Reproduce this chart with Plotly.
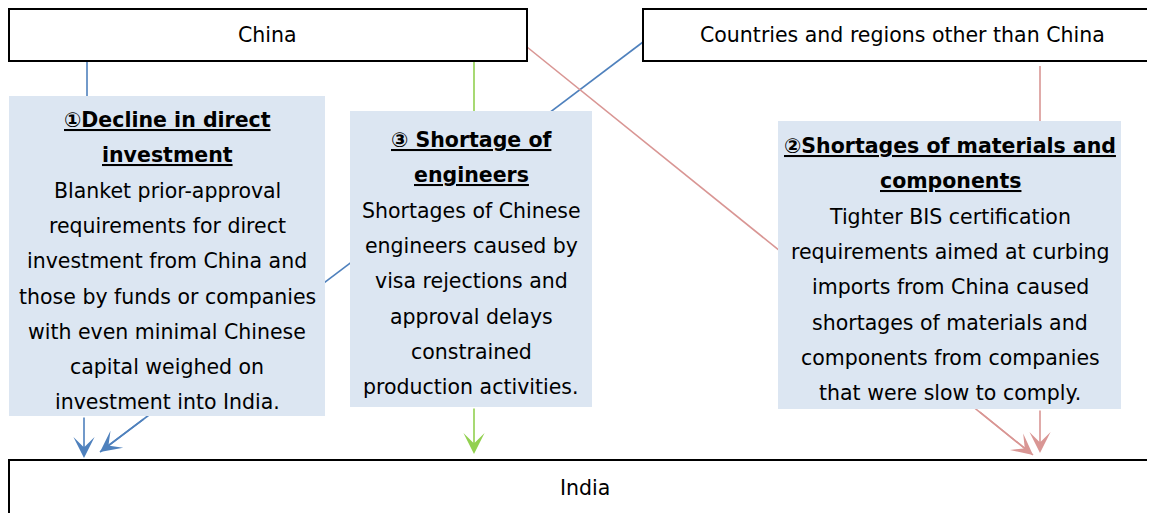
import plotly.graph_objects as go

# ---------------- data (texts) ----------------
node_labels = ["China", "Countries and regions other than China", "India"]

box1_title = ["①Decline in direct", "investment"]
box1_body = ["Blanket prior-approval", "requirements for direct",
             "investment from China and", "those by funds or companies",
             "with even minimal Chinese", "capital weighed on",
             "investment into India."]

box3_title = ["③ Shortage of", "engineers"]
box3_body = ["Shortages of Chinese", "engineers caused by",
             "visa rejections and", "approval delays",
             "constrained", "production activities."]

box2_title = ["②Shortages of materials and", "components"]
box2_body = ["Tighter BIS certification", "requirements aimed at curbing",
             "imports from China caused", "shortages of materials and",
             "components from companies", "that were slow to comply."]

# ---------------- layout / style ----------------
W, H = 1155, 513
OFF = 8  # page body margin offset
BLUE = "#4f81bd"
GREEN = "#92d050"
RED = "#d99694"
FILL = "#dce6f2"
FONT = "DejaVu Sans"
FS = 20.5

fig = go.Figure()
shapes = []
annotations = []

def line(x0, y0, x1, y1, color, width=1.6):
    shapes.append(dict(type="line", xref="x", yref="y", x0=x0, y0=y0, x1=x1, y1=y1,
                       line=dict(color=color, width=width), layer="below"))

def arrow(xt, yt, xtail, ytail, color):
    annotations.append(dict(x=xt, y=yt, ax=xtail, ay=ytail, xref="x", yref="y",
                            axref="x", ayref="y", showarrow=True, text="",
                            arrowhead=3, arrowsize=2.2, arrowwidth=1.6,
                            arrowcolor=color, standoff=0, startstandoff=0))

def rect(x0, y0, x1, y1, fill, border=None, bw=2):
    shapes.append(dict(type="rect", xref="x", yref="y", x0=x0, y0=y0, x1=x1, y1=y1,
                       fillcolor=fill,
                       line=dict(color=border if border else fill, width=bw if border else 0),
                       layer="below"))

def text(x, y, s, size=FS, bold=False, underline=False):
    t = s
    if underline:
        t = "<u>" + t + "</u>"
    if bold:
        t = "<b>" + t + "</b>"
    annotations.append(dict(x=x, y=y, xref="x", yref="y", text=t, showarrow=False,
                            xanchor="center", yanchor="middle",
                            font=dict(family=FONT, size=size, color="#000000")))

# connector lines (drawn beneath the boxes)
line(87, 61, 87, 96, BLUE)            # China -> box1
line(643, 42, 100, 452, BLUE)         # Countries -> India (diagonal, behind boxes)
line(474, 61, 474, 111, GREEN)        # China -> box3
line(527, 47, 1033, 455, RED)         # China -> India (diagonal, behind box2)
line(1040, 66, 1040, 121, RED)        # Countries -> box2

# top / bottom node boxes
rect(9, 9, 527, 61, "white", "black")
rect(643, 9, 1175, 61, "white", "black")
rect(9, 460, 1175, 540, "white", "black")

# explanation boxes
rect(9, 96, 325, 416, FILL)
rect(350, 111, 592, 407, FILL)
rect(778, 121, 1121, 409, FILL)

# arrowheads into India
def on_line(x0, y0, x1, y1, y):
    return x0 + (x1 - x0) * (y - y0) / (y1 - y0)
arrow(84, 458, 84, 416, BLUE)
arrow(100, 452, on_line(643, 42, 100, 452, 418), 418, BLUE)
arrow(474, 454, 474, 407, GREEN)
arrow(1033, 455, on_line(527, 47, 1033, 455, 411), 411, RED)
arrow(1040, 453, 1040, 409, RED)

# node labels
text(267, 35, node_labels[0])
text(902, 35, node_labels[1])
text(585, 488, node_labels[2])

# box texts
def box_text(cx, y_start, titles, body, step=35.3):
    y = y_start
    for t in titles:
        text(cx, y, t, bold=True, underline=True)
        y += step
    for b in body:
        text(cx, y, b)
        y += step

box_text(167, 120, box1_title, box1_body)
box_text(471, 140, box3_title, box3_body)
box_text(950, 146, box2_title, box2_body)

fig.update_layout(
    width=W, height=H,
    margin=dict(l=0, r=0, t=0, b=0),
    paper_bgcolor="white", plot_bgcolor="white",
    xaxis=dict(range=[OFF, W + OFF], visible=False, fixedrange=True),
    yaxis=dict(range=[H + OFF, OFF], visible=False, fixedrange=True),
    shapes=shapes, annotations=annotations,
    showlegend=False,
)

fig.write_html("out.html")
